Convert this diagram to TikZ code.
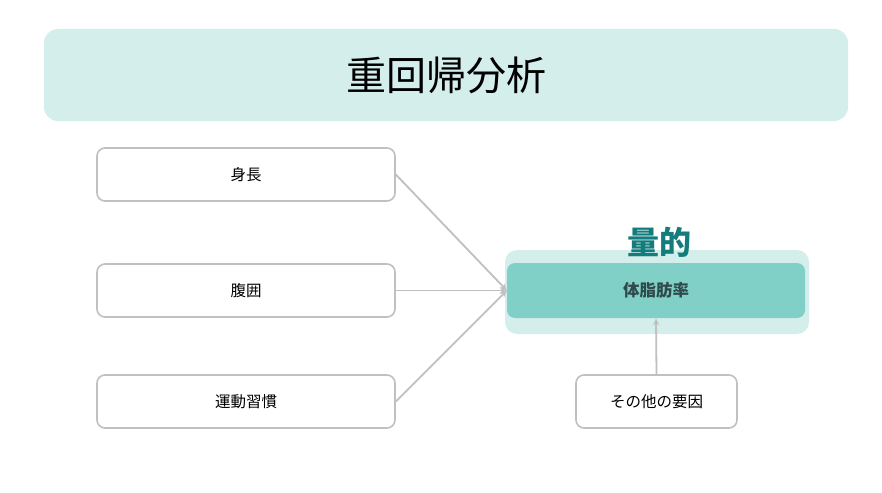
\documentclass[tikz,border=0pt]{standalone}
\usepackage{fontspec}
\setmainfont{Noto Sans CJK JP}
\usetikzlibrary{arrows.meta}
\definecolor{lightteal}{HTML}{D4EEEC}
\definecolor{midteal}{HTML}{80D0C8}
\definecolor{darkteal}{HTML}{137C7C}
\definecolor{boxgray}{HTML}{C0C0C0}
\definecolor{textdark}{HTML}{2F4A4A}
\tikzset{
  inbox/.style={draw=boxgray, line width=1.6pt, rounded corners=8pt, fill=white,
    minimum width=298pt, minimum height=53pt, inner sep=0pt, font=\fontsize{15.5}{18}\selectfont},
  conn/.style={draw=boxgray, line width=1.8pt, -{Stealth[length=7pt,width=6pt]}},
}
\begin{document}
\begin{tikzpicture}[x=1pt,y=-1pt]
\useasboundingbox[fill=white] (0,0) rectangle (882,492);
\node[fill=lightteal, rounded corners=14pt, minimum width=804pt, minimum height=92pt, inner sep=0pt,
  font=\fontsize{40}{46}\selectfont] (title) at (446,75) {重回帰分析};
\node[inbox] (a) at (246,174.5) {身長};
\node[inbox] (b) at (246,290.5) {腹囲};
\node[inbox] (c) at (246,401.5) {運動習慣};
\node[fill=lightteal, rounded corners=12pt, minimum width=304pt, minimum height=84pt, inner sep=0pt] (outer) at (657,292) {};
\node[fill=midteal, rounded corners=8pt, minimum width=298pt, minimum height=55pt, inner sep=0pt,
  text=textdark, font=\fontsize{16.5}{19}\selectfont\bfseries] (t) at (656,290.5) {体脂肪率};
\node[text=darkteal, font=\fontsize{32}{36}\selectfont\bfseries, inner sep=0pt] (lab) at (659,242) {量的};
\node[inbox, minimum width=161pt] (d) at (656.5,401.5) {その他の要因};
\draw[conn] (a.east) -- (t.west);
\draw[conn] (b.east) -- (t.west);
\draw[conn] (c.east) -- (t.west);
\draw[conn] (d.north) -- (t.south);
\end{tikzpicture}
\end{document}
